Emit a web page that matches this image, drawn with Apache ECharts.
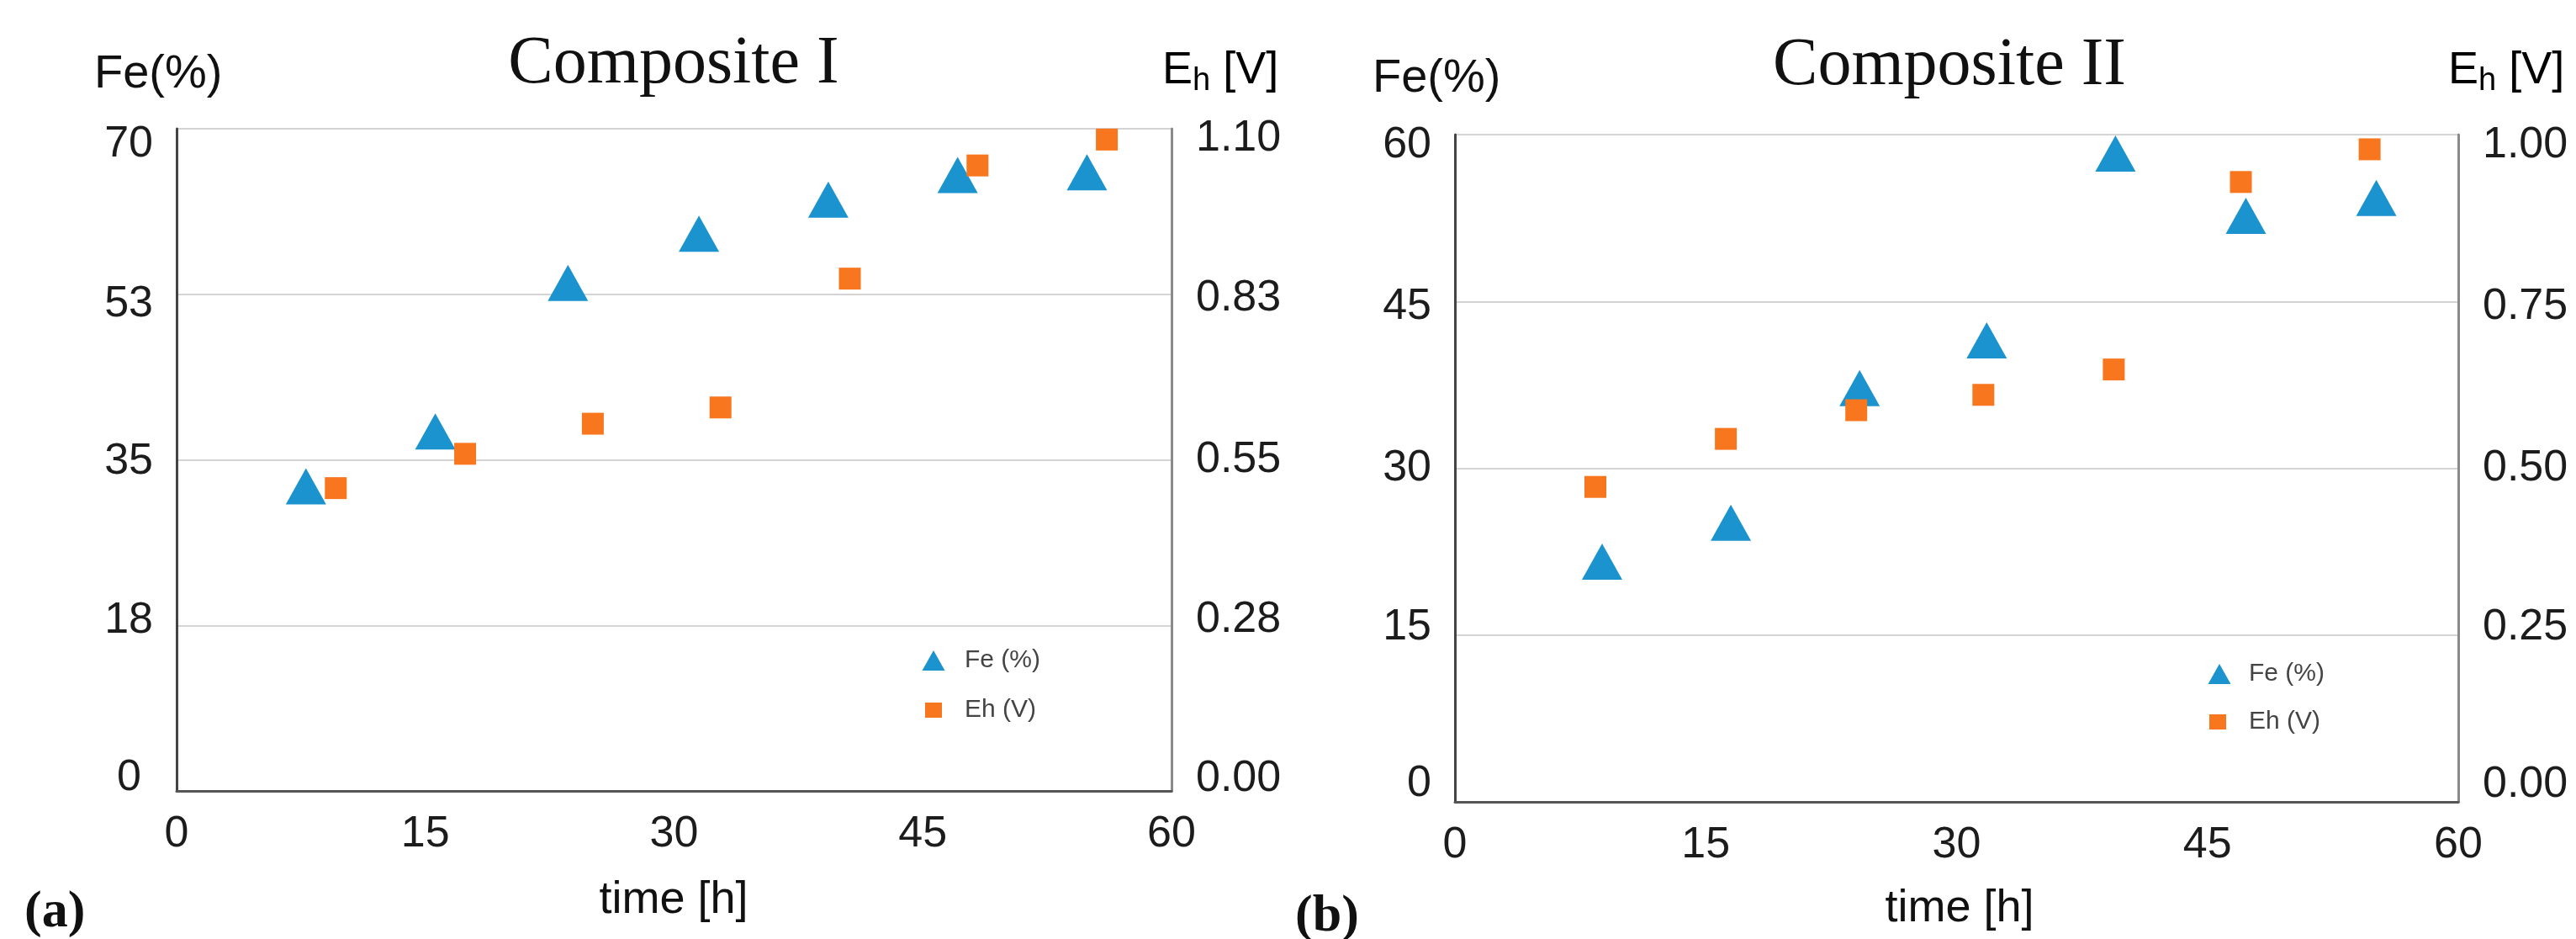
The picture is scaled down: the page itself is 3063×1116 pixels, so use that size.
<!DOCTYPE html>
<html><head><meta charset="utf-8">
<script src="https://cdn.jsdelivr.net/npm/echarts@6/dist/echarts.min.js"></script>
<style>html,body{margin:0;padding:0;background:#fff}#c{width:3063px;height:1116px}</style>
</head><body><div id="c"></div>
<script>
// ---- tick labels ----
const timeTicks = ['0', '15', '30', '45', '60'];
const feTicksA = ['0', '18', '35', '53', '70'];
const ehTicksA = ['0.00', '0.28', '0.55', '0.83', '1.10'];
const feTicksB = ['0', '15', '30', '45', '60'];
const ehTicksB = ['0.00', '0.25', '0.50', '0.75', '1.00'];
const axisMax = { time: 60, feA: 70, ehA: 1.10, feB: 60, ehB: 1.00 };

// ---- Composite I ----
const timeFeA = [7.8, 15.6, 23.6, 31.5, 39.3, 47.1, 54.9];
const feA     = [32.2, 38.0, 53.7, 58.9, 62.5, 65.1, 65.4];
const timeEhA = [9.6, 17.4, 25.1, 32.8, 40.6, 48.3, 56.1];
const ehA     = [0.503, 0.560, 0.610, 0.637, 0.851, 1.039, 1.082];

// ---- Composite II ----
const timeFeB = [8.8, 16.5, 24.2, 31.8, 39.5, 47.3, 55.1];
const feB     = [21.6, 25.1, 37.2, 41.5, 58.3, 52.7, 54.3];
const timeEhB = [8.4, 16.2, 24.0, 31.6, 39.4, 47.0, 54.7];
const ehB     = [0.472, 0.544, 0.587, 0.610, 0.648, 0.929, 0.978];

const SANS = 'Liberation Sans, Arial, sans-serif';
const SERIF = 'Liberation Serif, Times New Roman, serif';
const BLUE = '#1B93CF';
const ORANGE = '#F7761E';
const TXT = '#1c1c1c';
const LBL = 52;

function zip(xs, ys) { return xs.map((x, i) => [x, ys[i]]); }

function yLabel(labels, max, shifts, side, extraRight) {
  const step = max / (labels.length - 1);
  const rich = {};
  labels.forEach((_, i) => {
    const s = shifts[i];
    const pr = (extraRight && extraRight[i]) || 0;
    rich['o' + i] = {
      fontSize: LBL, fontFamily: SANS, color: TXT,
      padding: s >= 0 ? [2 * s, pr, 0, 0] : [0, pr, -2 * s, 0]
    };
  });
  return {
    show: true, showMinLabel: true, showMaxLabel: true,
    margin: side === 'left' ? 28 : 29,
    fontSize: LBL, fontFamily: SANS, color: TXT,
    formatter: v => { const i = Math.round(v / step); return '{o' + i + '|' + labels[i] + '}'; },
    rich
  };
}

function xAxis(gi) {
  return {
    type: 'value', gridIndex: gi, min: 0, max: axisMax.time, interval: 15,
    axisLine: { show: true, lineStyle: { color: '#555', width: 3 } },
    axisTick: { show: false }, splitLine: { show: false },
    axisLabel: {
      show: true, showMinLabel: true, showMaxLabel: true, margin: 26,
      fontSize: LBL, fontFamily: SANS, color: TXT,
      formatter: v => timeTicks[Math.round(v / 15)]
    }
  };
}

function yLeft(gi, labels, max, shifts, extraRight) {
  return {
    type: 'value', gridIndex: gi, position: 'left', min: 0, max: max, interval: max / (labels.length - 1),
    axisLine: { show: true, onZero: false, lineStyle: { color: '#444', width: 3 } },
    axisTick: { show: false },
    splitLine: { show: true, lineStyle: { color: '#d4d4d4', width: 2 } },
    axisLabel: yLabel(labels, max, shifts, 'left', extraRight)
  };
}
function yRight(gi, labels, max, shifts) {
  return {
    type: 'value', gridIndex: gi, position: 'right', min: 0, max: max, interval: max / (labels.length - 1),
    axisLine: { show: true, onZero: false, lineStyle: { color: '#8a8a8a', width: 3 } },
    axisTick: { show: false }, splitLine: { show: false },
    axisLabel: yLabel(labels, max, shifts, 'right')
  };
}

function legendItem(name, left, top, w, h, padLeft) {
  return {
    data: [name], orient: 'vertical', left: left, top: top,
    itemWidth: w, itemHeight: h, padding: 0, selectedMode: false,
    textStyle: { fontSize: 30, fontFamily: SANS, color: '#444', padding: [0, 0, 0, padLeft] }
  };
}

function txt(text, x, y, size, family, align, weight) {
  return {
    type: 'text', x: x, y: y, silent: true,
    style: { text: text, fontSize: size, fontFamily: family, fontWeight: weight || 'normal',
             fill: '#111', align: align, verticalAlign: 'middle' }
  };
}
function ehText(x, y) {
  return {
    type: 'text', x: x, y: y, silent: true,
    style: {
      text: '{e|E}{s|h}{v| [V]}', align: 'left', verticalAlign: 'middle',
      rich: {
        e: { fontSize: 54, lineHeight: 64, fontFamily: SANS, color: '#111' },
        s: { fontSize: 38, lineHeight: 33, fontFamily: SANS, color: '#111', verticalAlign: 'bottom' },
        v: { fontSize: 54, lineHeight: 64, fontFamily: SANS, color: '#111' }
      }
    }
  };
}

const chart = echarts.init(document.getElementById('c'), null, { renderer: 'canvas' });
chart.setOption({
  backgroundColor: '#fff',
  animation: false,
  grid: [
    { left: 210, top: 153, width: 1183, height: 787, containLabel: false, outerBoundsMode: 'none' },
    { left: 1730, top: 160, width: 1193, height: 793, containLabel: false, outerBoundsMode: 'none' }
  ],
  xAxis: [xAxis(0), xAxis(1)],
  yAxis: [
    yLeft(0, feTicksA, axisMax.feA, [-15, -6, 2, 12, 19], [14, 0, 0, 0, 0]),
    yRight(0, ehTicksA, axisMax.ehA, [-14, -7, 0, 5, 12]),
    yLeft(1, feTicksB, axisMax.feB, [-21, -9, 0, 6, 13]),
    yRight(1, ehTicksB, axisMax.ehB, [-20, -9, 0, 6, 13])
  ],
  legend: [
    legendItem('Fe (%)', 1096.5, 770, 27, 24, 18.5),
    legendItem('Eh (V)', 1100, 829, 20, 18, 22),
    legendItem('Fe (%)', 2625.5, 786, 27, 24, 16.5),
    legendItem('Eh (V)', 2627, 843, 20, 18, 22)
  ],
  series: [
    { name: 'Fe (%)', type: 'scatter', xAxisIndex: 0, yAxisIndex: 0, symbol: 'triangle', symbolSize: [48, 43],
      itemStyle: { color: BLUE, opacity: 1 }, data: zip(timeFeA, feA), z: 3 },
    { name: 'Eh (V)', type: 'scatter', xAxisIndex: 0, yAxisIndex: 1, symbol: 'rect', symbolSize: [26, 26],
      itemStyle: { color: ORANGE, opacity: 1 }, data: zip(timeEhA, ehA), z: 4 },
    { name: 'Fe (%)', type: 'scatter', xAxisIndex: 1, yAxisIndex: 2, symbol: 'triangle', symbolSize: [48, 43],
      itemStyle: { color: BLUE, opacity: 1 }, data: zip(timeFeB, feB), z: 3 },
    { name: 'Eh (V)', type: 'scatter', xAxisIndex: 1, yAxisIndex: 3, symbol: 'rect', symbolSize: [26, 26],
      itemStyle: { color: ORANGE, opacity: 1 }, data: zip(timeEhB, ehB), z: 4 }
  ],
  graphic: [
    txt('Composite I', 801, 77, 80, SERIF, 'center'),
    txt('Composite II', 2318, 79, 80, SERIF, 'center'),
    txt('Fe(%)', 112, 89, 56, SANS, 'left'),
    txt('Fe(%)', 1632, 94, 56, SANS, 'left'),
    ehText(1382, 84),
    ehText(2911, 84),
    txt('time [h]', 801, 1070, 54, SANS, 'center'),
    txt('time [h]', 2330, 1080, 54, SANS, 'center'),
    txt('(a)', 29, 1085, 62, SERIF, 'left', 'bold'),
    txt('(b)', 1540, 1090, 62, SERIF, 'left', 'bold')
  ]
});
</script>
</body></html>
